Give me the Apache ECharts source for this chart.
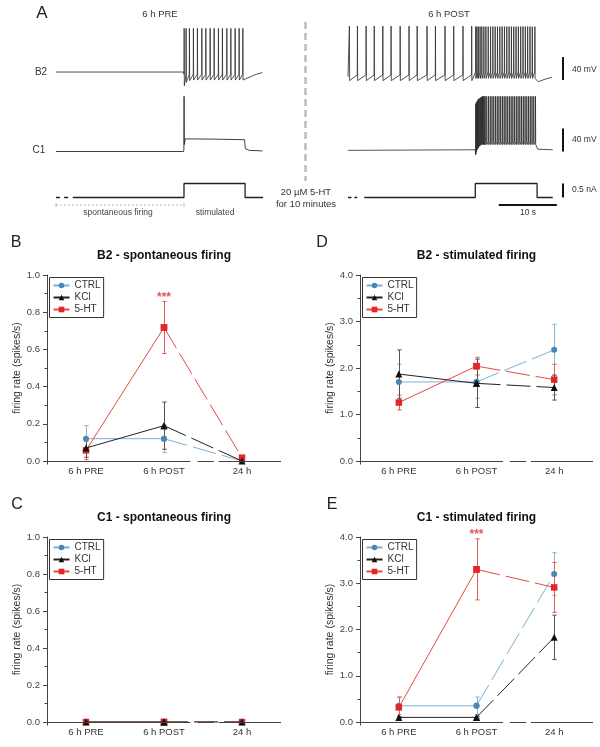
<!DOCTYPE html>
<html><head><meta charset="utf-8">
<script src="https://cdn.jsdelivr.net/npm/echarts@6/dist/echarts.min.js"></script>
<style>html,body{margin:0;padding:0;background:#fff}#c{width:600px;height:747px}</style>
</head><body><div id="c"></div>
<script>
// ================= DATA =================
const categories = ['6 h PRE', '6 h POST', '24 h'];
const groupNames = ['CTRL', 'KCl', '5-HT'];

// Panel B: B2 - spontaneous firing (mean, SEM)
const b2SponCtrl = [0.12, 0.12, 0.0];
const b2SponCtrlErr = [0.07, 0.075, 0.0];
const b2SponKcl = [0.07, 0.19, 0.0];
const b2SponKclErr = [0.05, 0.127, 0.0];
const b2Spon5ht = [0.057, 0.718, 0.018];
const b2Spon5htErr = [0.05, 0.14, 0.0];
const b2SponSig = [1];

// Panel D: B2 - stimulated firing
const b2StimCtrl = [1.70, 1.70, 2.39];
const b2StimCtrlErr = [0.38, 0.35, 0.55];
const b2StimKcl = [1.87, 1.67, 1.58];
const b2StimKclErr = [0.52, 0.52, 0.27];
const b2Stim5ht = [1.257, 2.04, 1.75];
const b2Stim5htErr = [0.16, 0.19, 0.33];
const b2StimSig = [];

// Panel C: C1 - spontaneous firing
const c1SponCtrl = [0, 0, 0];
const c1SponCtrlErr = [0, 0, 0];
const c1SponKcl = [0, 0, 0];
const c1SponKclErr = [0, 0, 0];
const c1Spon5ht = [0, 0, 0];
const c1Spon5htErr = [0, 0, 0];
const c1SponSig = [];

// Panel E: C1 - stimulated firing
const c1StimCtrl = [0.35, 0.35, 3.20];
const c1StimCtrlErr = [0.19, 0.19, 0.46];
const c1StimKcl = [0.10, 0.10, 1.83];
const c1StimKclErr = [0.02, 0.02, 0.48];
const c1Stim5ht = [0.316, 3.30, 2.91];
const c1Stim5htErr = [0.22, 0.66, 0.54];
const c1StimSig = [1];

// Panel A: recordings (time in s, membrane potential in mV, current in nA)
const b2PreBaseline = [[0, -52], [22.0, -52]];
const b2PreSpikes = [22.07, 22.41, 22.98, 23.67, 24.36, 25.12, 25.81, 26.55, 27.24, 27.98, 28.67, 29.43, 30.12, 30.86, 31.55, 32.19];
const b2PreTroughs = [-76, -70, -67, -66];
const b2PreAfter = [[32.6, -64], [32.9, -66], [33.6, -60], [34.5, -56], [35.6, -53]];

const b2PostStart = [[0, -60]];
const b2PostSpontSpikes = [0.22, 1.6, 3.1, 4.5, 5.98, 7.4, 8.97, 10.5, 11.9, 13.6, 15.05, 16.7, 18.2, 19.8, 21.3];
const b2PostStimSpikes = [22.0, 22.2, 22.45, 22.75, 23.05, 23.4, 23.75, 24.15, 24.55, 24.95, 25.35, 25.75, 26.15, 26.55, 26.95, 27.35, 27.75, 28.15, 28.55, 28.95, 29.35, 29.75, 30.15, 30.55, 30.95, 31.35, 31.75, 32.2];
const b2PostAfter = [[32.6, -66], [32.8, -69], [33.8, -65], [35.2, -61]];

const c1PreTrace = [[0, -50], [22.0, -50], [22.05, -46], [22.08, 46], [22.12, -38], [22.3, -28], [27.0, -28.5], [32.5, -29.5], [32.65, -45], [33.3, -48], [35.6, -49]];

const c1PostBase = [[0, -48], [21.95, -47], [22.0, -56]];
const c1PostSpikes = [22.0, 22.1, 22.2, 22.32, 22.45, 22.58, 22.72, 22.86, 23.0, 23.15, 23.3, 23.46, 23.62, 23.9, 24.2, 24.5, 24.8, 25.1, 25.4, 25.7, 26.0, 26.3, 26.6, 26.9, 27.2, 27.5, 27.8, 28.1, 28.4, 28.7, 29.0, 29.3, 29.6, 29.9, 30.2, 30.5, 30.8, 31.1, 31.4, 31.7, 32.0, 32.3];
const c1PostEarlyPeaks = [33, 35, 37, 39, 41, 42, 43, 44, 45];
const c1PostEarlyTroughs = [-54, -50, -47, -45, -43, -41, -40];
const c1PostAfter = [[32.55, -40], [32.7, -46], [35.3, -47]];

const iPreDashes = [[0, 0.7], [1.4, 2.1]];
const iPreSteps = [[2.9, 0], [22.07, 0], [22.07, 0.5], [32.6, 0.5], [32.6, 0], [35.7, 0]];
const iPostDashes = [[0, 0.6], [1.1, 1.6]];
const iPostSteps = [[2.8, 0], [21.95, 0], [21.95, 0.5], [32.6, 0.5], [32.6, 0], [35.3, 0]];

const spontWindow = [0, 22.07];          // s, bracket under left trace
const scaleBarTime = [26.0, 36.0];      // 10 s
const scaleBarB2 = [-66, -26];          // 40 mV
const scaleBarC1 = [-50, -10];          // 40 mV
const scaleBarI = [0, 0.5];             // 0.5 nA
const scaleBarAt = 37.07;               // s (x position of vertical bars)

// ================= BUILD =================
const FONT = '"Liberation Sans", Arial, Helvetica, sans-serif';
const chart = echarts.init(document.getElementById('c'), null, {renderer: 'canvas'});
const grids = [], xAxes = [], yAxes = [], series = [], legends = [], graphics = [];

function addGrid(g, x, y) {
  grids.push(g);
  const gi = grids.length - 1;
  xAxes.push(Object.assign({gridIndex: gi}, x));
  yAxes.push(Object.assign({gridIndex: gi}, y));
  return gi;
}
function txt(text, x, y, size, opt) {
  graphics.push({type: 'text', x: x, y: y, silent: true, z: 50,
    style: Object.assign({text: text, fontSize: size, fontFamily: FONT, fill: '#333',
      align: 'center', verticalAlign: 'middle', textAlign: 'center', textVerticalAlign: 'middle'}, opt || {})});
}
function gline(x1, y1, x2, y2, stroke, w, dash) {
  graphics.push({type: 'line', silent: true, z: 40, shape: {x1, y1, x2, y2},
    style: {stroke: stroke, lineWidth: w, lineDash: dash || null}});
}

// ---- Panel A trace grids ----
const T_W = 217.5, T_MAX = 37.5;
function traceGrid(left, top, height, ymin, ymax) {
  return addGrid({left: left, top: top, width: T_W, height: height},
    {type: 'value', min: 0, max: T_MAX, show: false},
    {type: 'value', min: ymin, max: ymax, show: false});
}
const gB2Pre = traceGrid(56, 22, 71.875, -90, 35);
const gC1Pre = traceGrid(56, 94, 69, -70, 50);
const gIPre = traceGrid(56, 177.9, 30.8, -0.4, 0.7);
const gB2Post = traceGrid(348, 22, 71.875, -90, 35);
const gC1Post = traceGrid(348, 94, 69, -70, 50);
const gIPost = traceGrid(348, 177.9, 30.8, -0.4, 0.7);

function trace(gi, data, color, width, dash) {
  series.push({type: 'line', xAxisIndex: gi, yAxisIndex: gi, data: data, symbol: 'none',
    silent: true, animation: false, clip: false, z: 5,
    lineStyle: {color: color || '#2a2a2a', width: width || 0.9, type: dash || 'solid'}});
}
function buildTrain(times, thr, peak, trough, earlyPeaks, earlyTroughs) {
  const out = [];
  times.forEach(function (t, i) {
    const pk = (earlyPeaks && i < earlyPeaks.length) ? earlyPeaks[i] : peak;
    const tr = (earlyTroughs && i < earlyTroughs.length) ? earlyTroughs[i] : trough;
    out.push([t, thr], [t + 0.025, pk], [t + 0.06, tr]);
  });
  return out;
}

// B2 PRE
trace(gB2Pre, b2PreBaseline.concat(buildTrain(b2PreSpikes, -56, 24, -66, null, b2PreTroughs), b2PreAfter), '#333', 0.85);
// C1 PRE
trace(gC1Pre, c1PreTrace, '#2a2a2a', 0.9);
// Current PRE
iPreDashes.forEach(d => trace(gIPre, [[d[0], 0], [d[1], 0]], '#222', 1.3));
trace(gIPre, iPreSteps, '#222', 1.3);
// spontaneous-firing bracket
trace(gIPre, [[spontWindow[0], -0.27], [spontWindow[1], -0.27]], '#aaa', 0.8, [2, 2]);
trace(gIPre, [[spontWindow[0], -0.2], [spontWindow[0], -0.34]], '#aaa', 0.8);
trace(gIPre, [[spontWindow[1], -0.2], [spontWindow[1], -0.34]], '#aaa', 0.8);

// B2 POST
trace(gB2Post, b2PostStart.concat(buildTrain(b2PostSpontSpikes, -57, 28, -67),
  buildTrain(b2PostStimSpikes, -52, 27, -63), b2PostAfter), '#333', 0.85);
// C1 POST
trace(gC1Post, c1PostBase.concat(buildTrain(c1PostSpikes, -33, 46, -38, c1PostEarlyPeaks, c1PostEarlyTroughs), c1PostAfter), '#2a2a2a', 0.8);
// Current POST
iPostDashes.forEach(d => trace(gIPost, [[d[0], 0], [d[1], 0]], '#222', 1.3));
trace(gIPost, iPostSteps, '#222', 1.3);
// scale bars
trace(gB2Post, [[scaleBarAt, scaleBarB2[0]], [scaleBarAt, scaleBarB2[1]]], '#111', 2);
trace(gC1Post, [[scaleBarAt, scaleBarC1[0]], [scaleBarAt, scaleBarC1[1]]], '#111', 2);
trace(gIPost, [[scaleBarAt, scaleBarI[0]], [scaleBarAt, scaleBarI[1]]], '#111', 2);
trace(gIPost, [[scaleBarTime[0], -0.27], [scaleBarTime[1], -0.27]], '#111', 2);

// Panel A text
txt('A', 42, 13, 17, {fill: '#222'});
txt('6 h PRE', 160, 14, 9.5);
txt('6 h POST', 449, 14, 9.5);
txt('B2', 41, 72, 10);
txt('C1', 39, 150, 10);
txt('spontaneous firing', 118, 213, 8.5, {fill: '#444'});
txt('stimulated', 215, 213, 8.5, {fill: '#444'});
txt('20 \u00b5M 5-HT', 306, 192, 9.5);
txt('for 10 minutes', 306, 204, 9.5);
txt('40 mV', 572, 70, 8.5, {align: 'left', textAlign: 'left'});
txt('40 mV', 572, 140, 8.5, {align: 'left', textAlign: 'left'});
txt('0.5 nA', 572, 190, 8.5, {align: 'left', textAlign: 'left'});
txt('10 s', 528, 213, 8.5);
gline(305.5, 22, 305.5, 181, '#bdbdbd', 2.5, [7, 4]);

// ---- Panels B-E ----
const styles = [
  {name: 'CTRL', marker: '#4a87b5', line: '#7fb0d3', err: '#86b5d6', symbol: 'circle', size: 6, z: 3},
  {name: 'KCl', marker: '#111', line: '#222', err: '#555', symbol: 'triangle', size: 7, z: 5},
  {name: '5-HT', marker: '#e3262b', line: '#e8483f', err: '#ea5a52', symbol: 'rect', size: 6.5, z: 4}
];
const panels = [
  {letter: 'B', title: 'B2 - spontaneous firing', rect: {left: 47, top: 275, width: 234, height: 186}, ymax: 1, yint: 0.2,
    vals: [b2SponCtrl, b2SponKcl, b2Spon5ht], errs: [b2SponCtrlErr, b2SponKclErr, b2Spon5htErr], sig: b2SponSig},
  {letter: 'D', title: 'B2 - stimulated firing', rect: {left: 360, top: 275, width: 233, height: 186}, ymax: 4, yint: 1,
    vals: [b2StimCtrl, b2StimKcl, b2Stim5ht], errs: [b2StimCtrlErr, b2StimKclErr, b2Stim5htErr], sig: b2StimSig},
  {letter: 'C', title: 'C1 - spontaneous firing', rect: {left: 47, top: 537, width: 234, height: 185}, ymax: 1, yint: 0.2,
    vals: [c1SponCtrl, c1SponKcl, c1Spon5ht], errs: [c1SponCtrlErr, c1SponKclErr, c1Spon5htErr], sig: c1SponSig},
  {letter: 'E', title: 'C1 - stimulated firing', rect: {left: 360, top: 537, width: 233, height: 185}, ymax: 4, yint: 1,
    vals: [c1StimCtrl, c1StimKcl, c1Stim5ht], errs: [c1StimCtrlErr, c1StimKclErr, c1Stim5htErr], sig: c1StimSig}
];
const letterPos = {B: [16, 243], D: [322, 243], C: [17, 505], E: [332, 505]};

const drawOrder = [0, 2, 1];
panels.forEach(function (p) {
  const r = p.rect;
  const gi = addGrid({left: r.left, top: r.top, width: r.width, height: r.height},
    {type: 'category', data: categories, boundaryGap: true, axisLine: {show: false}, axisTick: {show: false},
      splitLine: {show: false}, axisLabel: {fontSize: 9.5, color: '#333', fontFamily: FONT, margin: 5}},
    {type: 'value', min: 0, max: p.ymax, interval: p.yint,
      axisLine: {show: true, lineStyle: {color: '#444', width: 1}},
      axisTick: {show: true, length: 4, lineStyle: {color: '#444'}},
      minorTick: {show: true, splitNumber: 2, length: 2.5, lineStyle: {color: '#444'}},
      splitLine: {show: false}, minorSplitLine: {show: false},
      axisLabel: {fontSize: 9.5, color: '#444', fontFamily: FONT, margin: 7, formatter: v => v.toFixed(1)},
      name: 'firing rate (spikes/s)', nameLocation: 'middle', nameGap: 23,
      nameTextStyle: {fontSize: 10.5, color: '#333', fontFamily: FONT}});
  p.gi = gi;

  drawOrder.forEach(function (k) {
    const s = styles[k];
    const v = p.vals[k], e = p.errs[k];
    const errData = [];
    v.forEach((m, i) => { if (e[i] > 0) errData.push([i, Math.max(0, m - e[i]), m + e[i]]); });
    series.push({type: 'custom', name: 'err-' + s.name, xAxisIndex: gi, yAxisIndex: gi, silent: true, z: 2, animation: false,
      data: errData, encode: {x: 0, y: [1, 2]},
      renderItem: function (params, api) {
        const x = api.value(0);
        const lo = api.coord([x, api.value(1)]), hi = api.coord([x, api.value(2)]);
        const c = s.err, w = 2.2;
        const xx = Math.round(lo[0]) + 0.5;
        return {type: 'group', children: [
          {type: 'line', shape: {x1: xx, y1: lo[1], x2: xx, y2: hi[1]}, style: {stroke: c, lineWidth: 1}},
          {type: 'line', shape: {x1: xx - w, y1: lo[1], x2: xx + w, y2: lo[1]}, style: {stroke: c, lineWidth: 1}},
          {type: 'line', shape: {x1: xx - w, y1: hi[1], x2: xx + w, y2: hi[1]}, style: {stroke: c, lineWidth: 1}}
        ]};
      }});
  });
  // solid (PRE -> POST) then dashed (POST -> 24 h)
  drawOrder.forEach(function (k) {
    const s = styles[k], v = p.vals[k];
    series.push({type: 'line', name: s.name, xAxisIndex: gi, yAxisIndex: gi, z: s.z, animation: false,
      data: [v[0], v[1], '-'], symbol: s.symbol, symbolSize: s.size, showSymbol: true, silent: true,
      itemStyle: {color: s.marker}, lineStyle: {color: s.line, width: 1}});
  });
  drawOrder.forEach(function (k) {
    const s = styles[k], v = p.vals[k];
    series.push({type: 'line', name: s.name, xAxisIndex: gi, yAxisIndex: gi, z: s.z, animation: false,
      data: ['-', v[1], v[2]], symbol: s.symbol, symbolSize: s.size, showSymbol: true, silent: true,
      itemStyle: {color: s.marker}, lineStyle: {color: s.line, width: 1, type: [24, 6]}});
  });
  // significance stars
  if (p.sig.length) {
    series.push({type: 'scatter', name: 'sig', xAxisIndex: gi, yAxisIndex: gi, silent: true, animation: false, z: 6,
      symbol: 'circle', symbolSize: 2, itemStyle: {color: 'rgba(0,0,0,0)'},
      data: p.sig.map(i => [i, p.vals[2][i] + p.errs[2][i]]),
      label: {show: true, formatter: '***', position: 'top', distance: 1, offset: [0, 4], color: '#e3262b',
        fontSize: 12, fontWeight: 'bold', fontFamily: FONT}});
  }
  // legend
  legends.push({data: groupNames, orient: 'vertical', left: r.left + 2.5, top: r.top + 2.5, selectedMode: false,
    borderColor: '#333', borderWidth: 1, borderRadius: 0, padding: [3, 3, 3, 3], itemGap: 2,
    itemWidth: 16, itemHeight: 7, textStyle: {fontSize: 10, color: '#333', fontFamily: FONT}});
  // titles and letters
  txt(p.title, r.left + r.width / 2, r.top - 19, 12, {fontWeight: 'bold', fill: '#111'});
  txt(p.letter, letterPos[p.letter][0], letterPos[p.letter][1], 16, {fill: '#222'});
  // broken x axis
  const y0 = Math.round(r.top + r.height) + 0.5;
  const step = r.width / 3;
  const cPost = r.left + step * 1.5;
  gline(r.left - 4, y0, cPost + 0.34 * step, y0, '#444', 1);
  gline(cPost + 0.43 * step, y0, cPost + 0.64 * step, y0, '#444', 1);
  gline(cPost + 0.70 * step, y0, r.left + r.width, y0, '#444', 1);
  gline(Math.round(r.left) + 0.5, y0, Math.round(r.left) + 0.5, y0 + 3, '#444', 1);
});

chart.setOption({
  animation: false,
  backgroundColor: '#fff',
  textStyle: {fontFamily: FONT},
  grid: grids, xAxis: xAxes, yAxis: yAxes, legend: legends, series: series,
  graphic: {elements: graphics}
});
</script></body></html>
